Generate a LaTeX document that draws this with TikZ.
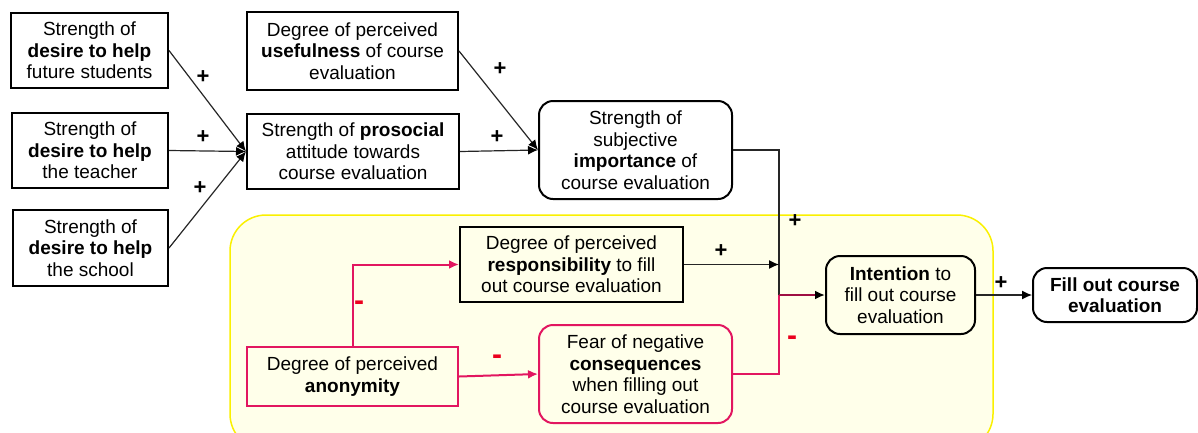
\documentclass[tikz,border=0pt]{standalone}
\usepackage{fontspec}
\setmainfont{Liberation Sans}
\usetikzlibrary{arrows.meta}
\definecolor{pinkc}{RGB}{226,22,96}
\definecolor{yelb}{RGB}{250,240,0}
\definecolor{yelf}{RGB}{255,255,234}
\definecolor{minusred}{RGB}{235,0,30}
\tikzset{
  box/.style={draw=black, line width=2pt, fill=white, inner sep=0pt, align=center,
    font=\fontsize{19}{21.5}\selectfont},
  rbox/.style={box, rounded corners=14pt},
  conn/.style={draw=black!85, line width=1.2pt, -{Latex[length=10pt,width=9pt,color=black]}},
  pconn/.style={draw=pinkc, line width=2pt, -{Latex[length=10pt,width=9pt]}},
  plus/.style={font=\fontsize{22}{22}\selectfont\bfseries, inner sep=0pt},
  minus/.style={font=\fontsize{30}{30}\selectfont\bfseries, text=minusred, inner sep=0pt},
}
\begin{document}
\begin{tikzpicture}[x=1pt,y=-1pt]
\useasboundingbox (0,0) rectangle (1198,432);
% yellow region
\fill[yelf, draw=yelb, line width=1.5pt, rounded corners=36pt] (230,215) rectangle (993,450);

\node[box, minimum width=157pt, minimum height=75pt] (a1) at (89.5,50.5) {Strength of\\\textbf{desire to help}\\future students};
\node[box, minimum width=156pt, minimum height=75pt] (a2) at (90,150.5) {Strength of\\\textbf{desire to help}\\the teacher};
\node[box, minimum width=155pt, minimum height=76pt] (a3) at (90.5,248) {Strength of\\\textbf{desire to help}\\the school};
\node[box, minimum width=211pt, minimum height=78pt] (b) at (352.5,51) {Degree of perceived\\\textbf{usefulness} of course\\evaluation};
\node[box, minimum width=212pt, minimum height=75pt] (c) at (353,151.5) {Strength of \textbf{prosocial}\\attitude towards\\course evaluation};
\node[rbox, minimum width=193pt, minimum height=98pt] (d) at (635.5,150) {Strength of\\subjective\\\textbf{importance} of\\course evaluation};
\node[box, fill=yelf, minimum width=223pt, minimum height=75pt] (e) at (571.5,264.5) {Degree of perceived\\\textbf{responsibility} to fill\\out course evaluation};
\node[box, draw=pinkc, fill=yelf, minimum width=211pt, minimum height=59pt] (f) at (352.5,376.5) {Degree of perceived\\\textbf{anonymity}};
\node[rbox, draw=pinkc, fill=yelf, minimum width=193pt, minimum height=98pt] (g) at (635.5,374) {Fear of negative\\\textbf{consequences}\\when filling out\\course evaluation};
\node[rbox, fill=yelf, minimum width=149pt, minimum height=78pt] (h) at (900.5,295) {\textbf{Intention} to\\fill out course\\evaluation};
\node[rbox, minimum width=164pt, minimum height=54pt] (i) at (1115,295) {\textbf{Fill out course}\\\textbf{evaluation}};

\coordinate (j) at (779,295);

% connectors
\draw[conn] (a1.east) -- (c.west);
\draw[conn] (a2.east) -- (c.west);
\draw[conn] (a3.east) -- (c.west);
\draw[conn] (b.east) -- (d.west);
\draw[conn] (c.east) -- (d.west);
\draw[conn, -] (d.east) -| (j);
\draw[conn] (e.east) -- (e.east -| j);
\draw[pconn] (f.north) |- (e.west);
\draw[pconn] (f.east) -- (g.west);
\draw[pconn, -] (g.east) -| (j);
\draw[draw=pinkc!70!black, line width=2.2pt, -{Latex[length=10pt,width=9pt,color=black]}] (j) -- (h.west);
\draw[conn] (h.east) -- (i.west);

% labels
\node[plus] (p1) at (203,77) {+};
\node[plus] (p2) at (203,137) {+};
\node[plus] (p3) at (200,188) {+};
\node[plus] (p4) at (500,69) {+};
\node[plus] (p5) at (497,137) {+};
\node[plus] (p6) at (795,221) {+};
\node[plus] (p7) at (721,251) {+};
\node[plus] (p8) at (1001,283) {+};
\node[minus] (m1) at (359,306) {-};
\node[minus] (m2) at (497,360) {-};
\node[minus] (m3) at (792,341) {-};
\end{tikzpicture}
\end{document}
